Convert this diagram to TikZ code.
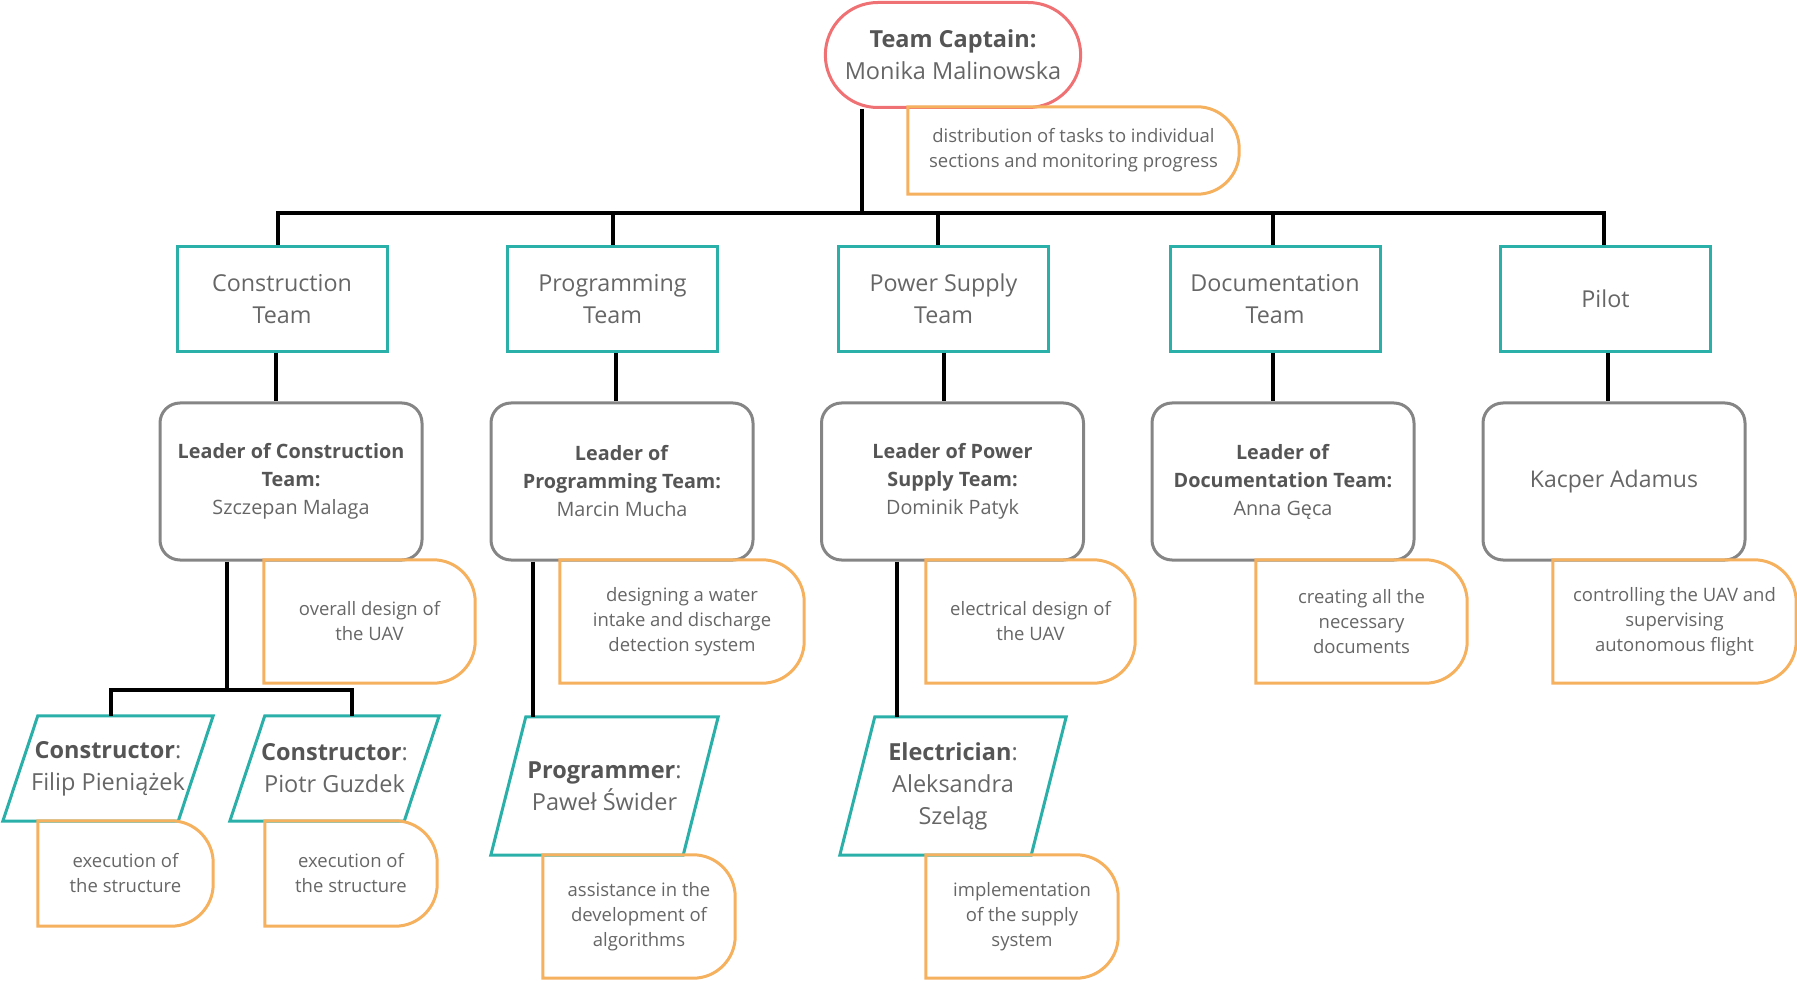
\documentclass[tikz,border=0pt]{standalone}
\usepackage{fontspec}
\setmainfont{Open Sans}
\usetikzlibrary{shapes.misc}
\usetikzlibrary{positioning}
\definecolor{captainred}{HTML}{F07173}
\definecolor{teamteal}{HTML}{2AAFA9}
\definecolor{taskorange}{HTML}{F6B15F}
\definecolor{leadgray}{HTML}{858585}
\definecolor{txtgray}{HTML}{666666}
\definecolor{boldgray}{HTML}{555555}

\begin{document}
\begin{tikzpicture}
    [   x = 1pt, y = -1pt
    ,   link/.style = {line width = 4pt, line join = miter}
    ,   captain/.style =
        {   rounded rectangle, draw = captainred, line width = 3pt
        ,   minimum width = 262pt, minimum height = 105pt
        ,   align = center, text = txtgray, font = \fontsize{23.5}{32}\selectfont
        }
    ,   team/.style =
        {   rectangle, draw = teamteal, line width = 3pt
        ,   minimum width = 210pt, minimum height = 105pt
        ,   align = center, text = txtgray, font = \fontsize{23.3}{32}\selectfont
        }
    ,   leader/.style =
        {   rectangle, rounded corners = 20pt, draw = leadgray, line width = 3pt
        ,   minimum width = 262pt, minimum height = 157pt
        ,   align = center, text = txtgray, font = \fontsize{19.8}{28}\selectfont
        }
    ,   worker/.style =
        {   rectangle, inner sep = 0pt
        ,   align = center, text = txtgray, font = \fontsize{23.5}{32}\selectfont
        ,   append after command =
            {   \pgfextra
                {   \draw[teamteal, line width = 3pt]
                    (\tikzlastnode.south west) -- ([xshift=35pt]\tikzlastnode.north west)
                    -- (\tikzlastnode.north east) -- ([xshift=-35pt]\tikzlastnode.south east)
                    -- cycle;
                }
            }
        }
    ,   task/.style =
        {   rectangle, inner sep = 0pt
        ,   align = center, text = txtgray, font = \fontsize{18.5}{25}\selectfont
        ,   append after command =
            {   \pgfextra
                {   \draw[taskorange, line width = 3pt]
                    (\tikzlastnode.south west) -- (\tikzlastnode.north west)
                    -- ([xshift=-42pt]\tikzlastnode.north east)
                    arc [start angle = 90, end angle = 0, radius = 42pt]
                    -- ([yshift=42pt]\tikzlastnode.south east)
                    arc [start angle = 0, end angle = -90, radius = 42pt]
                    -- cycle;
                }
            }
        }
    ]
    \useasboundingbox (0,0) rectangle (1797,981);

    \node[captain] (captain) at (953,55)
    {\textcolor{boldgray}{\textbf{Team Captain:}}\\Monika Malinowska};
    \node[task, minimum width = 331pt, minimum height = 87pt] (captaintask) at (1073.5,150.5)
    {distribution of tasks to individual\\sections and monitoring progress};

    \node[team] (construction) at (282,299) {Construction\\Team};
    \node[team] (programming) at (612.5,299) {Programming\\Team};
    \node[team] (power) at (943.5,299) {Power Supply\\Team};
    \node[team] (documentation) at (1275,299) {Documentation\\Team};
    \node[team] (pilot) at (1605.5,299) {Pilot};

    \node[leader] (constructionlead) at (291,481.5)
    {\textcolor{boldgray}{\textbf{Leader of Construction}}\\\textcolor{boldgray}{\textbf{Team:}}\\Szczepan Malaga};
    \node[leader] (programminglead) at (622,481.5)
    {\textcolor{boldgray}{\textbf{Leader of}}\\\textcolor{boldgray}{\textbf{Programming Team:}}\\Marcin Mucha};
    \node[leader] (powerlead) at (952.5,481.5)
    {\textcolor{boldgray}{\textbf{Leader of Power}}\\\textcolor{boldgray}{\textbf{Supply Team:}}\\Dominik Patyk};
    \node[leader] (documentationlead) at (1283,481.5)
    {\textcolor{boldgray}{\textbf{Leader of}}\\\textcolor{boldgray}{\textbf{Documentation Team:}}\\Anna Gęca};
    \node[leader, font = \fontsize{23}{28}\selectfont] (pilotlead) at (1614,481.5) {Kacper Adamus};

    \node[task, minimum width = 211pt, minimum height = 123pt] (constructiontask) at (369.5,621.5)
    {overall design of\\the UAV};
    \node[task, minimum width = 244pt, minimum height = 123pt] (programmingtask) at (682,621.5)
    {designing a water\\intake and discharge\\detection system};
    \node[task, minimum width = 209pt, minimum height = 123pt] (powertask) at (1030.5,621.5)
    {electrical design of\\the UAV};
    \node[task, minimum width = 211pt, minimum height = 123pt] (documentationtask) at (1361.5,621.5)
    {creating all the\\necessary\\documents};
    \node[task, minimum width = 243pt, minimum height = 123pt] (pilottask) at (1674.5,621.5)
    {controlling the UAV and\\supervising\\autonomous flight};

    \node[worker, minimum width = 210pt, minimum height = 105pt] (constructora) at (108,768.5)
    {\textcolor{boldgray}{\textbf{Constructor}}:\\Filip Pieniążek};
    \node[worker, minimum width = 209pt, minimum height = 105pt] (constructorb) at (334.5,768.5)
    {\textcolor{boldgray}{\textbf{Constructor}}:\\Piotr Guzdek};
    \node[worker, minimum width = 227pt, minimum height = 138pt] (programmer) at (604.5,786)
    {\textcolor{boldgray}{\textbf{Programmer}}:\\Paweł Świder};
    \node[worker, minimum width = 226pt, minimum height = 138pt] (electrician) at (953,786)
    {\textcolor{boldgray}{\textbf{Electrician}}:\\Aleksandra\\Szeląg};

    \node[task, minimum width = 175pt, minimum height = 105pt] (constructoratask) at (125.5,873.5)
    {execution of\\the structure};
    \node[task, minimum width = 172pt, minimum height = 105pt] (constructorbtask) at (351,873.5)
    {execution of\\the structure};
    \node[task, minimum width = 192pt, minimum height = 123pt] (programmertask) at (639,916.5)
    {assistance in the\\development of\\algorithms};
    \node[task, minimum width = 192pt, minimum height = 123pt] (electriciantask) at (1022,916.5)
    {implementation\\of the supply\\system};

    \coordinate (bus) at (862,213);
    \draw[link] (bus |- captain.south) -- (bus);
    \draw[link] ([xshift=-4pt]construction.north) |- (bus) -| ([xshift=-2pt]pilot.north);
    \draw[link] (programming.north) -- (programming.north |- bus);
    \draw[link] ([xshift=-6pt]power.north) -- ([xshift=-6pt]power.north |- bus);
    \draw[link] ([xshift=-2pt]documentation.north) -- ([xshift=-2pt]documentation.north |- bus);

    \draw[link] ([xshift=-6pt]construction.south) -- ([xshift=-6pt]construction.south |- constructionlead.north);
    \draw[link] ([xshift=3pt]programming.south) -- ([xshift=3pt]programming.south |- programminglead.north);
    \draw[link] (power.south) -- (power.south |- powerlead.north);
    \draw[link] ([xshift=-2pt]documentation.south) -- ([xshift=-2pt]documentation.south |- documentationlead.north);
    \draw[link] ([xshift=2pt]pilot.south) -- ([xshift=2pt]pilot.south |- pilotlead.north);

    \coordinate (split) at (227,690);
    \draw[link] (split |- constructionlead.south) -- (split);
    \draw[link] ([xshift=3pt]constructora.north) |- (split) -| ([xshift=17.5pt]constructorb.north);

    \coordinate (programmerdrop) at ([xshift=42pt]programmer.north west);
    \draw[link] (programmerdrop |- programminglead.south) -- (programmerdrop);
    \coordinate (electriciandrop) at ([xshift=57pt]electrician.north west);
    \draw[link] (electriciandrop |- powerlead.south) -- (electriciandrop);
\end{tikzpicture}
\end{document}
